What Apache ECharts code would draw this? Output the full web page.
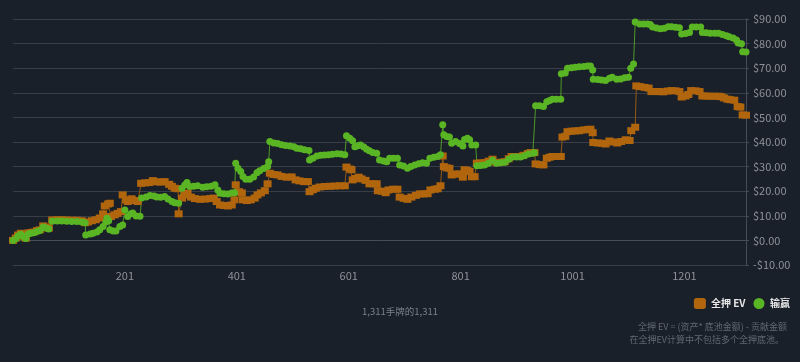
<!DOCTYPE html>
<html>
<head>
<meta charset="utf-8">
<script src="https://cdn.jsdelivr.net/npm/echarts@6/dist/echarts.min.js"></script>
<style>
html,body{margin:0;padding:0;background:#1a2029;}
#c{width:800px;height:362px;}
</style>
</head>
<body>
<div id="c"></div>
<script>
// ---- data ----
const seriesNames = ['全押 EV', '输赢'];
const xTickLabels = [201, 401, 601, 801, 1001, 1201];
const yMin = -10, yMax = 90, yStep = 10;
const totalHands = 1311;
const centerText = '1,311手牌的1,311';
const noteLines = ['全押 EV = (资产* 底池金额) - 贡献金额', '在全押EV计算中不包括多个全押底池。'];

const evHands = [1,6,10,15,21,24,28,33,38,44,49,55,60,65,71,80,88,97,106,115,124,130,135,142,149,156,162,165,171,174,176,183,188,194,197,203,206,213,219,224,230,237,244,251,258,265,272,280,285,290,296,297,303,308,313,319,326,335,344,353,360,365,371,378,385,392,397,399,405,410,412,419,426,433,438,444,451,456,460,467,474,481,490,499,506,513,521,528,531,537,542,549,558,567,576,585,594,597,603,606,608,613,619,624,631,638,646,651,653,660,667,672,680,688,692,699,706,713,721,728,735,742,747,755,760,765,769,771,776,781,785,792,799,805,808,813,817,821,826,830,837,844,851,858,865,872,880,887,892,899,906,913,921,926,933,935,942,949,955,960,965,972,980,983,988,992,999,1006,1013,1021,1028,1033,1037,1038,1046,1053,1060,1067,1074,1081,1088,1096,1103,1106,1113,1115,1122,1130,1137,1142,1149,1156,1163,1171,1178,1185,1192,1196,1203,1208,1213,1221,1228,1233,1240,1247,1255,1262,1267,1272,1278,1283,1290,1296,1301,1305,1311];
const evValues = [0.0,1.0,2.2,2.9,1.5,0.9,3.0,3.2,3.4,4.0,4.3,5.9,5.4,5.0,8.3,8.4,8.4,8.3,8.2,8.2,8.0,7.2,7.5,8.0,8.4,9.1,10.8,14.0,14.8,15.1,9.7,10.4,11.0,11.7,18.5,16.5,15.8,16.9,16.2,15.8,23.2,23.4,23.5,24.3,23.8,23.7,23.9,22.8,22.0,21.2,21.0,10.8,17.2,18.5,19.2,17.6,17.0,16.7,16.8,17.0,17.2,15.8,14.4,14.2,14.0,14.4,16.5,22.6,19.8,19.3,16.5,16.2,16.5,17.2,18.5,19.3,20.2,23.0,27.3,26.8,26.6,26.0,25.7,25.8,24.6,24.2,23.9,23.9,19.8,20.6,21.2,21.7,21.9,22.0,22.1,22.2,22.2,29.8,29.0,28.7,24.6,25.2,25.7,25.0,24.4,23.0,23.0,23.0,20.2,20.0,19.4,20.5,20.8,20.8,17.6,17.1,16.7,17.6,18.3,18.9,18.9,19.0,20.5,20.8,21.0,22.2,34.3,30.0,29.5,29.3,26.6,27.0,27.0,25.7,28.7,28.4,28.0,25.9,25.9,31.4,31.5,31.6,32.2,33.0,31.6,31.8,32.0,33.2,34.1,34.1,34.1,34.6,35.3,35.7,35.7,31.1,30.8,30.7,33.4,33.8,34.1,34.1,34.1,42.0,42.3,44.2,44.4,44.5,44.6,44.9,45.1,45.2,43.8,39.8,39.6,39.5,39.2,40.4,40.0,39.6,40.2,40.9,40.6,44.6,46.0,62.8,62.5,62.2,61.9,60.5,60.5,60.5,60.4,60.7,60.9,60.8,60.5,58.3,58.7,59.3,60.9,60.8,60.5,58.7,58.7,58.6,58.6,58.6,58.4,57.9,57.4,57.2,57.0,54.4,54.2,51.0,50.9];

const wlHands = [1,6,10,15,21,24,28,33,38,44,49,55,60,65,71,80,88,97,106,115,124,130,131,139,144,151,156,162,167,169,172,174,180,185,192,197,201,206,212,215,221,228,231,239,246,253,258,265,272,278,285,290,297,303,308,312,317,324,331,340,347,355,362,367,371,378,385,392,397,399,403,408,412,417,424,431,437,442,449,456,458,460,467,474,481,488,496,503,508,515,522,530,531,537,544,551,558,565,572,580,587,594,597,603,608,612,617,622,628,633,638,644,651,656,663,669,674,681,688,692,699,706,712,719,726,733,740,746,753,760,765,769,771,776,781,785,792,799,805,808,813,817,821,828,830,837,844,851,858,865,872,880,887,894,901,908,915,922,930,933,935,942,949,955,960,965,972,980,981,988,992,999,1006,1013,1021,1028,1033,1037,1038,1046,1053,1060,1067,1072,1080,1087,1094,1101,1105,1110,1113,1121,1128,1135,1140,1144,1151,1158,1165,1172,1178,1185,1192,1196,1203,1210,1215,1222,1230,1233,1240,1247,1255,1262,1269,1276,1281,1288,1294,1297,1303,1305,1311];
const wlValues = [0.0,0.7,1.8,2.5,1.2,0.8,2.6,2.9,3.1,3.6,4.0,5.4,5.0,4.6,7.8,7.9,7.9,7.8,7.7,7.7,7.5,7.2,2.2,2.6,2.9,3.4,4.3,5.6,7.5,9.0,8.0,4.3,3.8,3.8,5.6,6.3,12.4,9.7,10.8,11.1,9.9,9.8,17.2,17.6,18.3,18.0,17.6,17.5,17.8,16.8,15.8,15.3,15.1,21.2,22.5,23.5,21.9,22.0,22.2,21.6,21.8,22.0,22.6,20.5,19.2,19.0,18.9,19.3,19.4,31.4,29.3,28.0,26.0,24.9,24.9,25.8,27.5,28.3,29.2,30.0,32.0,40.2,39.6,39.4,38.9,38.6,38.4,38.1,37.5,37.3,36.8,36.5,32.7,33.4,34.3,34.6,34.7,34.8,35.0,35.2,35.1,34.8,42.5,41.5,40.5,38.1,38.5,38.8,38.0,37.1,36.4,35.7,35.4,32.7,32.3,32.0,33.4,33.4,33.4,30.7,30.2,29.3,30.0,30.7,31.2,31.6,31.4,33.4,33.8,34.1,34.8,47.0,42.9,42.2,42.0,39.5,40.2,39.4,38.4,41.0,41.5,40.9,38.8,38.8,30.3,30.4,30.6,31.4,32.6,31.4,31.6,31.8,33.0,33.9,33.9,33.9,34.4,35.1,35.4,35.6,54.7,54.7,54.4,56.4,56.9,57.4,57.4,57.4,67.7,68.0,70.0,70.2,70.4,70.6,70.7,70.9,70.9,69.3,65.5,65.4,65.2,65.0,65.9,66.3,65.5,65.6,66.1,66.3,70.0,71.7,88.8,88.0,88.0,88.0,87.8,86.7,86.3,86.0,86.2,86.8,86.9,86.6,86.4,83.9,84.1,84.5,86.7,86.7,86.7,84.5,84.4,84.2,84.2,84.2,83.7,83.2,82.8,82.3,81.5,80.2,79.9,76.7,76.6];

// ---- chart ----
const zip = (a, b) => a.map((h, i) => [h, b[i]]);
const fmtMoney = v => (v < 0 ? '-$' : '$') + Math.abs(v).toFixed(2);
const orange = '#b1660e';
const green = '#5ab524';

const chart = echarts.init(document.getElementById('c'), null, {renderer: 'canvas'});
chart.setOption({
  backgroundColor: '#1a2029',
  animation: false,
  textStyle: {fontFamily: '"Noto Sans CJK SC", "Noto Sans", sans-serif'},
  grid: {left: 13, right: 54, top: 19, bottom: 97, containLabel: false},
  legend: {
    right: 5, top: 293, itemGap: 8, itemWidth: 12, itemHeight: 11,
    textStyle: {color: '#e8e8e8', fontSize: 10, fontWeight: 'bold'},
    data: [{name: seriesNames[0], icon: 'roundRect'}, {name: seriesNames[1], icon: 'circle'}]
  },
  title: {
    text: centerText, left: 'center', top: 302,
    textStyle: {color: '#7a8089', fontSize: 9.5, fontWeight: 'normal'}
  },
  graphic: [
    {type: 'text', right: 13, top: 322, style: {text: noteLines[0], fill: '#616872', font: '9px "Noto Sans CJK SC"', textAlign: 'right'}},
    {type: 'text', right: 16, top: 335, style: {text: noteLines[1], fill: '#616872', font: '9px "Noto Sans CJK SC"', textAlign: 'right'}}
  ],
  xAxis: {
    type: 'value', min: 1, max: totalHands,
    axisLine: {show: true, lineStyle: {color: '#474d56'}},
    axisTick: {show: false},
    splitLine: {show: false},
    axisLabel: {customValues: xTickLabels, formatter: v => String(v), color: '#8d929a', fontSize: 11, margin: 5}
  },
  yAxis: {
    type: 'value', position: 'right', min: yMin, max: yMax, interval: yStep,
    axisLine: {show: true, lineStyle: {color: '#474d56'}},
    axisTick: {show: true, length: 3, lineStyle: {color: '#474d56'}},
    splitLine: {show: true, lineStyle: {color: '#383e47', width: 1}},
    axisLabel: {formatter: fmtMoney, color: '#8d929a', fontSize: 11, margin: 7}
  },
  series: [
    {
      name: seriesNames[0], type: 'line', data: zip(evHands, evValues),
      symbol: 'rect', symbolSize: [8, 7], showAllSymbol: true,
      itemStyle: {color: orange}, lineStyle: {color: orange, width: 1, opacity: 0.8}
    },
    {
      name: seriesNames[1], type: 'line', data: zip(wlHands, wlValues),
      symbol: 'circle', symbolSize: 7, showAllSymbol: true,
      itemStyle: {color: green}, lineStyle: {color: green, width: 1, opacity: 0.8}
    }
  ]
});
</script>
</body>
</html>
